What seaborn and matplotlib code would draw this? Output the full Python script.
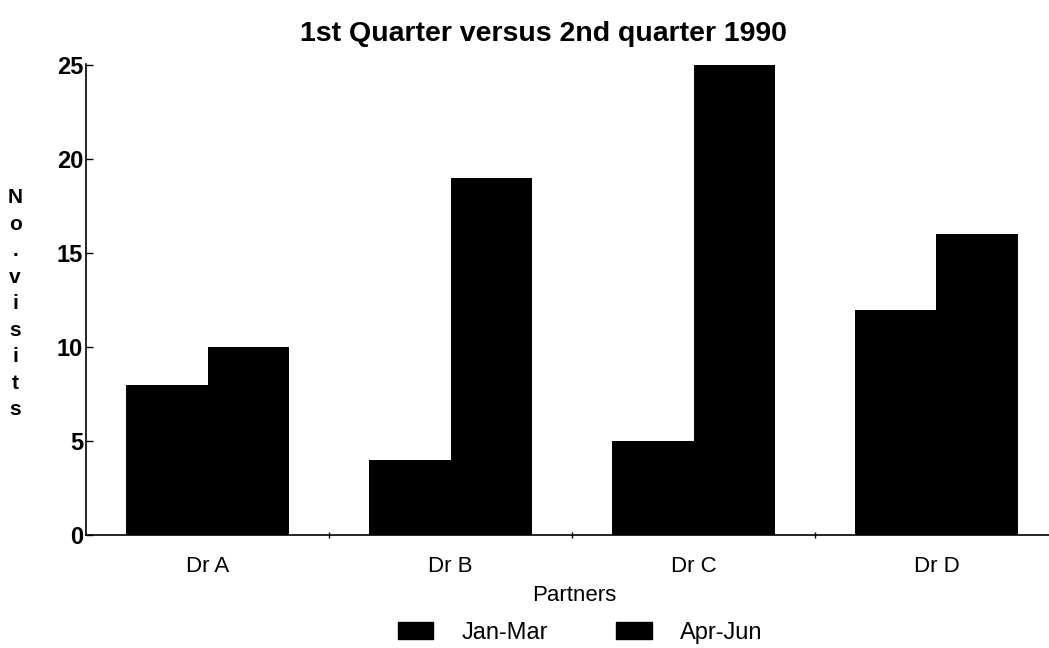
import matplotlib
matplotlib.use("Agg")
import matplotlib.pyplot as plt
import seaborn as sns
import pandas as pd
from matplotlib.patches import Patch

partners = ["Dr A", "Dr B", "Dr C", "Dr D"]
jan_mar = [8, 4, 5, 12]
apr_jun = [10, 19, 25, 16]
periods = ["Jan-Mar", "Apr-Jun"]
y_ticks = [0, 5, 10, 15, 20, 25]

df = pd.DataFrame({
    "Partners": partners * 2,
    "Visits": jan_mar + apr_jun,
    "Period": [periods[0]] * len(partners) + [periods[1]] * len(partners),
})

sns.set_theme(style="white")
plt.rcParams["font.family"] = ["Liberation Sans", "DejaVu Sans"]
plt.rcParams["text.color"] = "black"
plt.rcParams["axes.labelcolor"] = "black"
plt.rcParams["xtick.color"] = "black"
plt.rcParams["ytick.color"] = "black"

fig = plt.figure(figsize=(10.49, 6.48), dpi=100)
ax = fig.add_axes([0.082, 0.1744, 0.918, 0.7276])

sns.barplot(data=df, x="Partners", y="Visits", hue="Period", order=partners,
            hue_order=periods, palette=["black", "black"], width=0.67,
            linewidth=0, saturation=1, legend=False, ax=ax)

ax.set_xlim(-0.5, 3.463)
ax.set_ylim(0, 25.1)
ax.set_yticks(y_ticks)
ax.set_yticklabels([str(t) for t in y_ticks], fontsize=17, fontweight="bold")
ax.set_xticks(range(len(partners)))
ax.set_xticklabels(partners, fontsize=16)
ax.set_xticks([0.5, 1.5, 2.5], minor=True)
ax.tick_params(axis="x", which="major", length=0, pad=15)
ax.tick_params(axis="x", which="minor", length=4, width=1, direction="inout", color="black", bottom=True)
ax.tick_params(axis="y", which="major", length=5, width=1, direction="in", color="black", left=True, pad=2)

for side in ["top", "right"]:
    ax.spines[side].set_visible(False)
for side in ["left", "bottom"]:
    ax.spines[side].set_color("black")
    ax.spines[side].set_linewidth(1.2)

ax.set_xlabel("Partners", fontsize=16)
ax.xaxis.set_label_coords(0.507, -0.128)
ax.xaxis.label.set_va("center")
ax.set_ylabel("")
fig.text(0.0145, 0.531, "\n".join("No.visits"), ha="center", va="center",
         fontsize=15, fontweight="bold", linespacing=1.5)

fig.suptitle("1st Quarter versus 2nd quarter 1990", x=0.518, y=0.968,
             fontsize=20.5, fontweight="bold")

handles = [Patch(facecolor="black", edgecolor="black") for _ in periods]
fig.legend(handles, periods, loc="lower center", bbox_to_anchor=(0.553, -0.026),
           ncol=2, frameon=False, fontsize=17, handlelength=1.5, handleheight=0.7,
           columnspacing=2.9, handletextpad=1.2)

fig.savefig("out.png", dpi=100)
